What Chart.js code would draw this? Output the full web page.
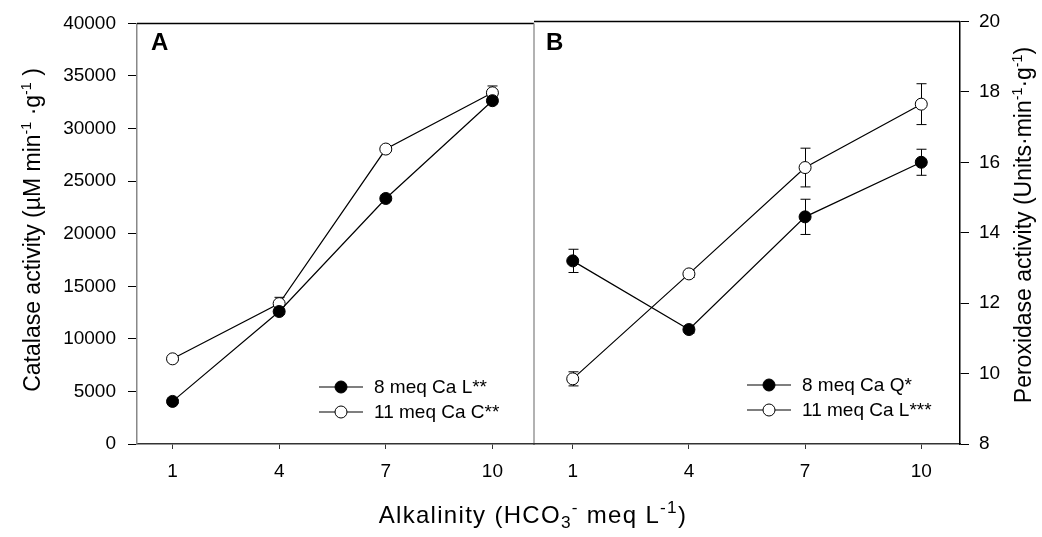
<!DOCTYPE html>
<html>
<head>
<meta charset="utf-8">
<script src="https://cdn.jsdelivr.net/npm/chart.js@4.4.1/dist/chart.umd.min.js"></script>
<style>
    html, body { margin: 0; padding: 0; background: #fff; }
    #quadro { position: relative; width: 1042px; height: 537px; }
    #quadro canvas { position: absolute; left: 0; top: 0; }
</style>
</head>
<body>
<div id="quadro">
    <canvas id="graficoA" width="1042" height="537"></canvas>
    <canvas id="graficoB" width="1042" height="537"></canvas>
</div>
<script>
// Alkalinity levels (HCO3- meq L-1)
const alcalinidade = [1, 4, 7, 10];

// Panel A: catalase activity
const catalase8 = [4050, 12600, 23350, 32650];
const catalase8Erro = [150, 250, 200, 300];
const catalase11 = [8100, 13350, 28050, 33400];
const catalase11Erro = [150, 600, 200, 650];
const catalaseTicks = [0, 40000, 5000];

// Panel B: peroxidase activity
const peroxidase8 = [13.2, 11.25, 14.45, 16.0];
const peroxidase8Erro = [0.33, 0.1, 0.5, 0.37];
const peroxidase11 = [9.85, 12.83, 15.85, 17.65];
const peroxidase11Erro = [0.2, 0.1, 0.55, 0.58];
const peroxidaseTicks = [8, 20, 2];

const legendaA = ['8 meq Ca L**', '11 meq Ca C**'];
const legendaB = ['8 meq Ca Q*', '11 meq Ca L***'];

const FONTE = "'Liberation Sans', Arial, sans-serif";

(function () {
    if (typeof Chart === 'undefined') {
        return;
    }

    function pontos(valores) {
        return alcalinidade.map(function (x, i) {
            return { x: x, y: valores[i] };
        });
    }

    function serie(label, valores, cheio) {
        return {
            label: label,
            data: pontos(valores),
            borderColor: '#000',
            borderWidth: 1.2,
            pointRadius: 6,
            pointHoverRadius: 6,
            pointBorderWidth: 1,
            pointBorderColor: '#000',
            pointBackgroundColor: cheio ? '#000' : '#fff',
            fill: false,
            tension: 0
        };
    }

    // rich text with sup (1) / sub (-1) parts
    function textoRico(ctx, partes, t) {
        const tamanho = t.tam;
        const fator = t.fator || 0.62;
        ctx.save();
        ctx.letterSpacing = (t.espaco || 0) + 'px';
        let total = 0;
        const medidas = partes.map(function (p) {
            const s = p[1] === 0 ? tamanho : tamanho * fator;
            ctx.font = s + 'px ' + FONTE;
            const w = ctx.measureText(p[0]).width;
            total += w;
            return { w: w, s: s };
        });
        ctx.translate(t.x, t.y);
        ctx.rotate(t.ang);
        ctx.fillStyle = '#000';
        ctx.textBaseline = 'alphabetic';
        ctx.textAlign = 'left';
        const base = tamanho * 0.36;
        let x = -total / 2;
        partes.forEach(function (p, i) {
            ctx.font = medidas[i].s + 'px ' + FONTE;
            let y = base;
            if (p[1] === 1) y = base - tamanho * 0.42;
            if (p[1] === -1) y = base + tamanho * 0.22;
            ctx.fillText(p[0], x, y);
            x += medidas[i].w;
        });
        ctx.restore();
    }

    function extras(cfg) {
        return {
            id: 'extras' + cfg.letra,
            beforeDatasetsDraw: function (chart) {
                const ctx = chart.ctx;
                const xs = chart.scales.x;
                const ys = chart.scales.y;
                ctx.save();
                ctx.strokeStyle = '#000';
                ctx.lineWidth = 1;
                cfg.erros.forEach(function (erros, d) {
                    const valores = chart.data.datasets[d].data;
                    valores.forEach(function (p, j) {
                        const e = erros[j];
                        if (!e) return;
                        const x = Math.round(xs.getPixelForValue(p.x)) + 0.5;
                        const y1 = ys.getPixelForValue(p.y + e);
                        const y2 = ys.getPixelForValue(p.y - e);
                        ctx.beginPath();
                        ctx.moveTo(x, y1);
                        ctx.lineTo(x, y2);
                        ctx.moveTo(x - 5, y1);
                        ctx.lineTo(x + 5, y1);
                        ctx.moveTo(x - 5, y2);
                        ctx.lineTo(x + 5, y2);
                        ctx.stroke();
                    });
                });
                ctx.restore();
            },
            afterDraw: function (chart) {
                const ctx = chart.ctx;
                const area = chart.chartArea;
                ctx.save();
                // top frame
                ctx.strokeStyle = '#000';
                ctx.lineWidth = 1.5;
                ctx.beginPath();
                ctx.moveTo(area.left, area.top);
                ctx.lineTo(area.right, area.top);
                ctx.stroke();
                if (cfg.divisoria) {
                    ctx.strokeStyle = '#999';
                    ctx.lineWidth = 1.5;
                    ctx.beginPath();
                    ctx.moveTo(area.right, area.top);
                    ctx.lineTo(area.right, area.bottom);
                    ctx.stroke();
                }
                // panel letter
                ctx.fillStyle = '#000';
                ctx.font = 'bold 24px ' + FONTE;
                ctx.textBaseline = 'alphabetic';
                ctx.textAlign = 'left';
                ctx.fillText(cfg.letra, cfg.letraX, 50);

                // legend
                ctx.font = '19px ' + FONTE;
                ctx.textBaseline = 'middle';
                chart.data.datasets.forEach(function (ds, i) {
                    const y = cfg.legY + i * 25;
                    const l = cfg.legX;
                    ctx.strokeStyle = '#000';
                    ctx.lineWidth = 1.2;
                    ctx.beginPath();
                    ctx.moveTo(l, y);
                    ctx.lineTo(l + 44, y);
                    ctx.stroke();
                    ctx.beginPath();
                    ctx.arc(l + 22, y, 6, 0, Math.PI * 2);
                    ctx.fillStyle = ds.pointBackgroundColor;
                    ctx.fill();
                    ctx.lineWidth = 1;
                    ctx.stroke();
                    ctx.fillStyle = '#000';
                    ctx.fillText(ds.label, l + 55, y + 1);
                });

                // axis titles
                cfg.titulos.forEach(function (t) {
                    textoRico(ctx, t.partes, t);
                });
                ctx.restore();
            }
        };
    }

    function escalas(opc) {
        return {
            x: {
                type: 'linear',
                min: 0,
                max: opc.xMax,
                afterBuildTicks: function (axis) {
                    axis.ticks = alcalinidade.map(function (v) { return { value: v }; });
                },
                afterFit: function (s) { s.height = 93; },
                grid: { drawOnChartArea: false, drawTicks: true, tickLength: 5, color: '#333' },
                border: { display: true, color: '#333', width: 1.5 },
                ticks: {
                    color: '#000', font: { family: FONTE, size: 19 }, padding: 11, maxRotation: 0, autoSkip: false,
                    callback: function (v) { return String(v); }
                }
            },
            y: {
                type: 'linear',
                position: opc.lado,
                min: opc.ticks[0],
                max: opc.ticks[1],
                afterFit: function (s) { s.width = opc.largura; },
                grid: { drawOnChartArea: false, drawTicks: true, tickLength: 9, color: '#000' },
                border: { display: true, color: opc.corBorda, width: 1.5 },
                ticks: {
                    stepSize: opc.ticks[2], color: '#000', font: { family: FONTE, size: 19 }, padding: opc.pad,
                    callback: function (v) { return String(v); }
                }
            }
        };
    }

    const tituloX = {
        partes: [['Alkalinity (HCO', 0], ['3', -1], ['-', 1], [' meq L', 0], ['-1', 1], [')', 0]],
        x: 533, y: 514, ang: 0, tam: 24, fator: 0.72, espaco: 1.3
    };

    new Chart(document.getElementById('graficoA'), {
        type: 'line',
        data: {
            datasets: [
                serie(legendaA[0], catalase8, true),
                serie(legendaA[1], catalase11, false)
            ]
        },
        options: {
            responsive: false,
            animation: false,
            devicePixelRatio: 1,
            layout: { padding: { left: 0, top: 19, right: 508, bottom: 0 } },
            plugins: { legend: { display: false }, tooltip: { enabled: false } },
            scales: escalas({ xMax: 11.17, lado: 'left', ticks: catalaseTicks, largura: 137, corBorda: '#888', pad: 12 })
        },
        plugins: [extras({
            letra: 'A', letraX: 151, divisoria: true,
            erros: [catalase8Erro, catalase11Erro],
            legX: 319, legY: 387,
            titulos: [
                {
                    partes: [['Catalase activity (\u00b5M min', 0], ['-1', 1], [' \u00b7g', 0], ['-1', 1], [' )', 0]],
                    x: 32, y: 230, ang: -Math.PI / 2, tam: 23
                },
                tituloX
            ]
        })]
    });

    new Chart(document.getElementById('graficoB'), {
        type: 'line',
        data: {
            datasets: [
                serie(legendaB[0], peroxidase8, true),
                serie(legendaB[1], peroxidase11, false)
            ]
        },
        options: {
            responsive: false,
            animation: false,
            devicePixelRatio: 1,
            layout: { padding: { left: 534, top: 19, right: 0, bottom: 0 } },
            plugins: { legend: { display: false }, tooltip: { enabled: false } },
            scales: escalas({ xMax: 11, lado: 'right', ticks: peroxidaseTicks, largura: 82, corBorda: '#000', pad: 10 })
        },
        plugins: [extras({
            letra: 'B', letraX: 546, divisoria: false,
            erros: [peroxidase8Erro, peroxidase11Erro],
            legX: 747, legY: 385,
            titulos: [
                {
                    partes: [['Peroxidase activity (Units\u00b7min', 0], ['-1', 1], ['\u00b7g', 0], ['-1', 1], [')', 0]],
                    x: 1023, y: 225, ang: -Math.PI / 2, tam: 23
                }
            ]
        })]
    });
})();
</script>
</body>
</html>
